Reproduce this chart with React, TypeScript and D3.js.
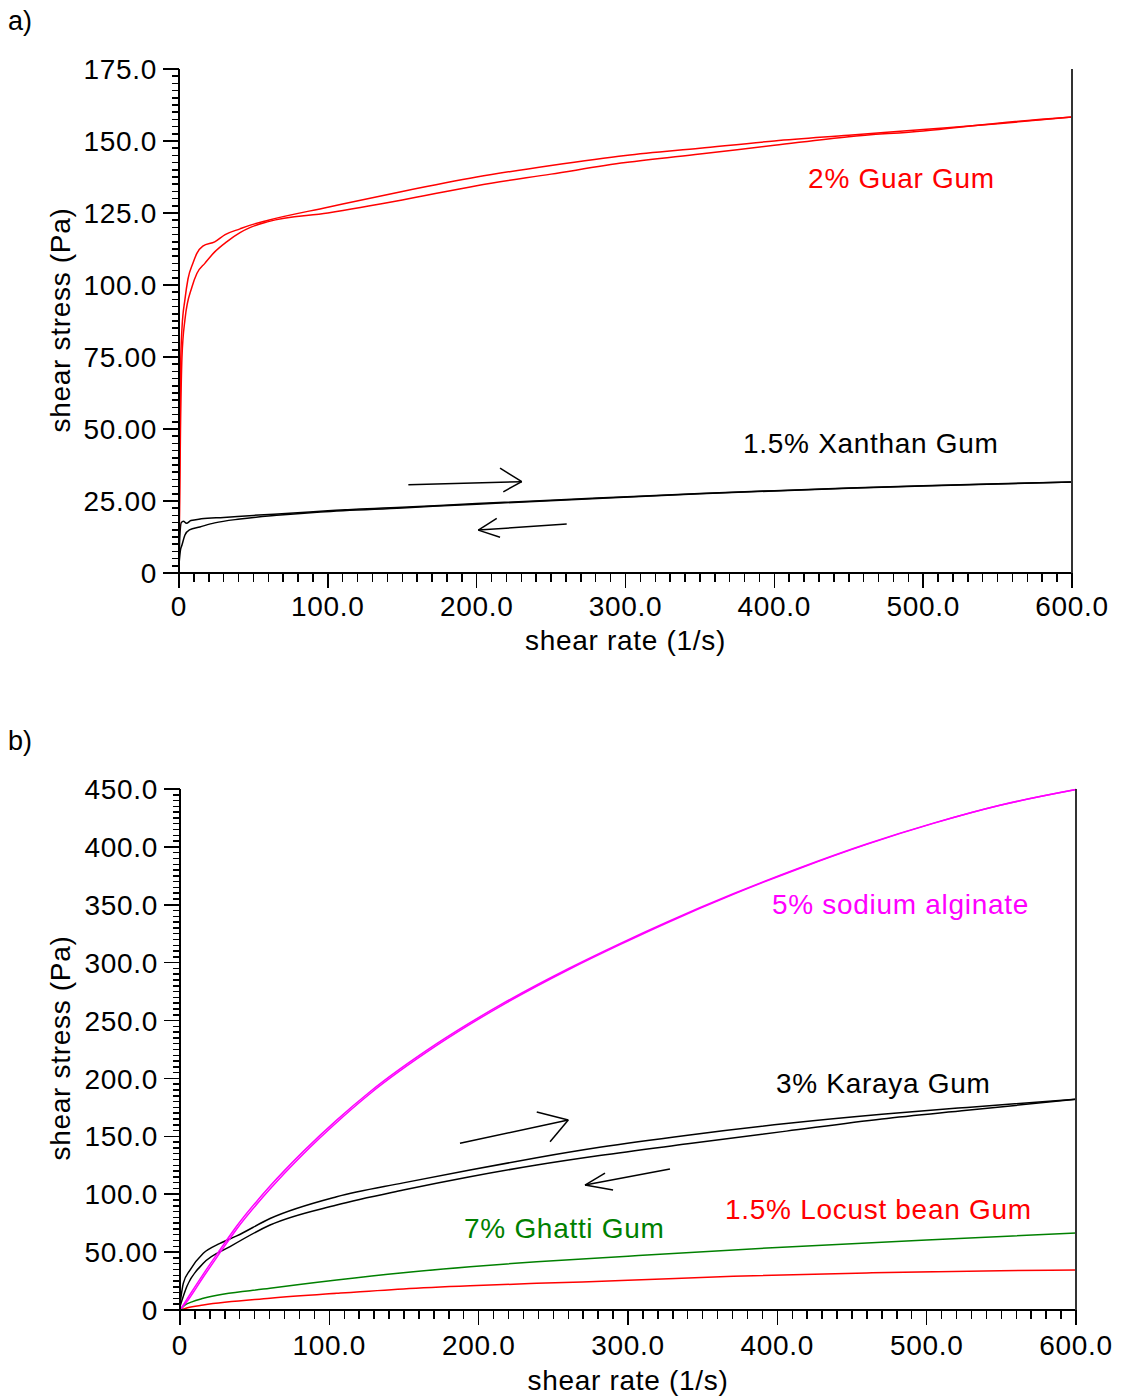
import React from "react";
import * as d3 from "d3";

// ---------- Panel a data (shear rate 1/s, shear stress Pa) ----------
const guarUpRate = [0, 0.5, 1, 2, 4, 6, 9.4, 12, 16, 24, 31, 41, 48, 60, 100, 150, 200, 250, 300, 350, 400, 450, 500, 550, 600];
const guarUpStress = [5, 40, 70, 85, 95, 102, 107.6, 111, 113.5, 115, 117.5, 119.5, 120.8, 122.5, 127, 132.5, 137.5, 141.5, 145, 147.5, 150, 152, 154, 156, 158.3];
const guarDownRate = [0, 1, 2, 4, 8.7, 12, 17.5, 24, 32, 41, 48, 60, 100, 150, 200, 250, 300, 350, 400, 450, 500, 550, 600];
const guarDownStress = [5, 50, 75, 88, 99.3, 104, 107.6, 111.5, 115, 118.2, 120, 122, 125, 129.5, 134.5, 138.5, 142.5, 145.5, 148.5, 151.5, 153.5, 156.2, 158.3];

const xanUpRate = [0, 0.5, 1.5, 3, 5, 8, 15, 30, 50, 77, 100, 150, 200, 281, 350, 400, 450, 500, 550, 600];
const xanUpStress = [3, 12, 17.5, 18, 17.3, 18.2, 18.8, 19.3, 20, 20.8, 21.6, 22.8, 24.1, 26, 27.6, 28.6, 29.5, 30.3, 31, 31.6];
const xanDownRate = [0, 1, 2, 4, 7, 14, 24, 41, 68, 95, 150, 200, 281, 350, 400, 450, 500, 550, 600];
const xanDownStress = [3, 8, 9.7, 13.2, 15, 16, 17.4, 18.75, 20.1, 21.2, 22.6, 23.9, 25.9, 27.5, 28.5, 29.4, 30.2, 30.9, 31.6];

// ---------- Panel b data ----------
const algRate = [0, 4.5, 15.6, 26.8, 38, 60.3, 82.6, 104.9, 127.2, 171.9, 216.5, 261, 294.6, 325.9, 370.5, 415.2, 459.8, 504.5, 549.1, 600];
const algUpStress = [0, 9, 31, 52, 72.5, 107, 137, 164, 188.5, 230, 265, 295.5, 316.5, 335, 359.5, 382, 402.5, 420.5, 436, 449.5];
const algDownStress = [0, 7, 28.5, 49.5, 70, 104.5, 134.8, 162, 186.8, 228.5, 263.8, 294.5, 315.6, 334.3, 359, 381.6, 402.2, 420.3, 435.9, 449.5];

const karUpRate = [0, 2.2, 6.7, 15.6, 26.8, 38, 60.3, 104.9, 149.5, 194.2, 238.9, 281, 340, 406, 470, 527, 600];
const karUpStress = [5, 23, 34.5, 49, 57.6, 64, 79, 97.8, 109.8, 121, 131.5, 140.5, 151, 161, 169, 175, 182];
const karDownRate = [0, 4.5, 15.6, 33.5, 60.3, 104.9, 149.5, 194.2, 238.9, 281, 340, 406, 470, 527, 600];
const karDownStress = [3, 20, 40.3, 54.7, 73.4, 90.7, 103.6, 115.1, 125.2, 133.4, 143.5, 154.5, 165, 172.5, 182];

const ghattiRate = [0, 3, 8, 15.6, 60.3, 104.9, 149.5, 194.2, 238.9, 300, 400, 500, 600];
const ghattiStress = [0, 4, 7, 10.1, 18.7, 25.9, 32.2, 37.4, 41.7, 46.5, 54, 60.5, 66.5];

const locustRate = [0, 5, 15.6, 60.3, 104.9, 149.5, 194.2, 238.9, 300, 370.5, 459.8, 549, 600];
const locustStress = [0, 2, 4.3, 10.1, 14.4, 18.2, 20.9, 23, 25.6, 29.2, 32, 34, 34.5];

// ---------- Axis ticks ----------
const xTicks = [0, 100, 200, 300, 400, 500, 600];
const xTickLabels = ["0", "100.0", "200.0", "300.0", "400.0", "500.0", "600.0"];
const aYTicks = [0, 25, 50, 75, 100, 125, 150, 175];
const aYTickLabels = ["0", "25.00", "50.00", "75.00", "100.0", "125.0", "150.0", "175.0"];
const bYTicks = [0, 50, 100, 150, 200, 250, 300, 350, 400, 450];
const bYTickLabels = ["0", "50.00", "100.0", "150.0", "200.0", "250.0", "300.0", "350.0", "400.0", "450.0"];

// ---------- Annotations (data units) ----------
const aLabels = [
  { text: "2% Guar Gum", rate: 422.7, stress: 133.7, color: "#ff0000" },
  { text: "1.5% Xanthan Gum", rate: 379, stress: 41.7, color: "#000000" },
];
const aArrows = [
  { tail: [154.1, 30.6], tip: [230.3, 31.7], h1: [215.7, 36.4], h2: [217.9, 28.2] },
  { tail: [260.5, 17], tip: [201.1, 14.9], h1: [213.5, 19], h2: [215.7, 12.4] },
];
const bLabels = [
  { text: "5% sodium alginate", rate: 396.4, stress: 342, color: "#ff00ff" },
  { text: "3% Karaya Gum", rate: 399.1, stress: 187.4, color: "#000000" },
  { text: "1.5% Locust bean Gum", rate: 365, stress: 78.6, color: "#ff0000" },
  { text: "7% Ghatti Gum", rate: 190.2, stress: 62.2, color: "#008000" },
];
const bArrows = [
  { tail: [187.5, 144], tip: [260, 164.1], h1: [238.9, 171], h2: [247.8, 145.3] },
  { tail: [328.1, 121.8], tip: [271.2, 107.9], h1: [284.6, 118.3], h2: [290, 103.6] },
];

const FONT = '"Liberation Sans", Arial, Helvetica, sans-serif';
const FS = 28;
const LS = 0.7;

const zip = (a: number[], b: number[]) => a.map((v, i) => [v, b[i]] as [number, number]);

type Series = { pts: [number, number][]; color: string };

function Panel(props: {
  x0: number; x1: number; yTop: number; yBot: number; yMax: number;
  yTicks: number[]; yTickLabels: string[]; yMinor: number; xMinor: number;
  series: Series[]; labels: typeof aLabels; arrows: typeof aArrows;
  yTitleY: number; xTitleY: number; xLabelY: number; tag: string; tagY: number;
}) {
  const { x0, x1, yTop, yBot, yMax } = props;
  const x = d3.scaleLinear().domain([0, 600]).range([x0, x1]);
  const y = d3.scaleLinear().domain([0, yMax]).range([yBot, yTop]);
  const line = d3
    .line<[number, number]>()
    .x((d) => x(d[0]))
    .y((d) => y(d[1]))
    .curve(d3.curveMonotoneX);
  const yMinorTicks = d3.range(0, yMax + 1e-6, props.yMinor);
  const xMinorTicks = d3.range(0, 600 + 1e-6, props.xMinor);
  const textStyle = { fontFamily: FONT, fontSize: FS, letterSpacing: LS } as React.CSSProperties;
  return (
    <g>
      <text x={8} y={props.tagY} style={{ fontFamily: FONT, fontSize: 27 }} fill="#000">{props.tag}</text>
      {props.series.map((s, i) => (
        <path key={i} d={line(s.pts) || ""} fill="none" stroke={s.color} strokeWidth={1.5} />
      ))}
      {props.arrows.map((a, i) => (
        <g key={i} stroke="#000" strokeWidth={1.5} fill="none">
          <line x1={x(a.tail[0])} y1={y(a.tail[1])} x2={x(a.tip[0])} y2={y(a.tip[1])} />
          <line x1={x(a.h1[0])} y1={y(a.h1[1])} x2={x(a.tip[0])} y2={y(a.tip[1])} />
          <line x1={x(a.h2[0])} y1={y(a.h2[1])} x2={x(a.tip[0])} y2={y(a.tip[1])} />
        </g>
      ))}
      {props.labels.map((l, i) => (
        <text key={i} x={x(l.rate)} y={y(l.stress)} fill={l.color} style={textStyle}>{l.text}</text>
      ))}
      <g stroke="#000" shapeRendering="crispEdges">
        <line x1={x0} x2={x0} y1={yTop} y2={yBot + 15} strokeWidth={2} />
        <line x1={x0} x2={x1} y1={yBot} y2={yBot} strokeWidth={2} />
        <line x1={x1} x2={x1} y1={yTop} y2={yBot + 15} strokeWidth={2} stroke="#333" />
        {yMinorTicks.map((t, i) => (
          <line key={"ym" + i} x1={x0 - 7} x2={x0} y1={y(t)} y2={y(t)} strokeWidth={1.5} />
        ))}
        {props.yTicks.map((t, i) => (
          <line key={"yM" + i} x1={x0 - 16} x2={x0} y1={y(t)} y2={y(t)} strokeWidth={1.5} />
        ))}
        {xMinorTicks.map((t, i) => (
          <line key={"xm" + i} x1={x(t)} x2={x(t)} y1={yBot} y2={yBot + 9} strokeWidth={1.5} />
        ))}
        {xTicks.map((t, i) => (
          <line key={"xM" + i} x1={x(t)} x2={x(t)} y1={yBot} y2={yBot + 15} strokeWidth={1.5} />
        ))}
      </g>
      {props.yTicks.map((t, i) => (
        <text key={"yl" + i} x={x0 - 22} y={y(t)} dy="0.36em" textAnchor="end" fill="#000" style={textStyle}>
          {props.yTickLabels[i]}
        </text>
      ))}
      {xTicks.map((t, i) => (
        <text key={"xl" + i} x={x(t)} y={props.xLabelY} textAnchor="middle" fill="#000" style={textStyle}>
          {xTickLabels[i]}
        </text>
      ))}
      <text x={(x0 + x1) / 2} y={props.xTitleY} textAnchor="middle" fill="#000" style={textStyle}>
        shear rate (1/s)
      </text>
      <text
        transform={`translate(70,${props.yTitleY}) rotate(-90)`}
        textAnchor="middle"
        fill="#000"
        style={textStyle}
      >
        shear stress (Pa)
      </text>
    </g>
  );
}

export default function App() {
  const aSeries: Series[] = [
    { pts: zip(xanUpRate, xanUpStress), color: "#000000" },
    { pts: zip(xanDownRate, xanDownStress), color: "#000000" },
    { pts: zip(guarUpRate, guarUpStress), color: "#ff0000" },
    { pts: zip(guarDownRate, guarDownStress), color: "#ff0000" },
  ];
  const bSeries: Series[] = [
    { pts: zip(locustRate, locustStress), color: "#ff0000" },
    { pts: zip(ghattiRate, ghattiStress), color: "#008000" },
    { pts: zip(karUpRate, karUpStress), color: "#000000" },
    { pts: zip(karDownRate, karDownStress), color: "#000000" },
    { pts: zip(algRate, algUpStress), color: "#ff00ff" },
    { pts: zip(algRate, algDownStress), color: "#ff00ff" },
  ];
  return (
    <svg
      width={1123}
      height={1396}
      style={{ position: "absolute", left: 0, top: 0, background: "#fff" }}
    >
      <rect width={1123} height={1396} fill="#fff" />
      <Panel
        x0={179} x1={1072} yTop={69} yBot={573} yMax={175}
        yTicks={aYTicks} yTickLabels={aYTickLabels} yMinor={2.5} xMinor={10}
        series={aSeries} labels={aLabels} arrows={aArrows}
        yTitleY={320} xTitleY={650} xLabelY={616} tag="a)" tagY={30}
      />
      <Panel
        x0={180} x1={1076} yTop={789} yBot={1310} yMax={450}
        yTicks={bYTicks} yTickLabels={bYTickLabels} yMinor={5} xMinor={10}
        series={bSeries} labels={bLabels} arrows={bArrows}
        yTitleY={1048} xTitleY={1390} xLabelY={1355} tag="b)" tagY={750}
      />
    </svg>
  );
}
